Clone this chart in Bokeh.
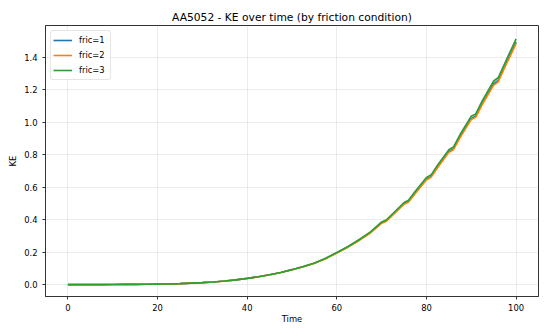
from bokeh.plotting import figure
from bokeh.models import FixedTicker, PrintfTickFormatter, Range1d
from bokeh.embed import file_html
from bokeh.resources import INLINE

time = [0, 2.5, 5, 7.5, 10, 12.5, 15, 17.5, 20, 22.5, 25, 27.5, 30, 32.5, 35, 37.5,
        40, 42.5, 45, 47.5, 50, 52.5, 55, 57.5, 60, 62.5, 65, 67.5, 70, 71, 72.5,
        75, 76, 77.5, 80, 81, 82.5, 85, 86, 87.5, 90, 91, 92.5, 95, 96, 97.5, 100]

ke_fric3 = [0.000, 0.000, 0.000, 0.000, 0.0005, 0.001, 0.0015, 0.002, 0.003, 0.004,
            0.006, 0.009, 0.012, 0.016, 0.022, 0.029, 0.038, 0.048, 0.061, 0.075,
            0.092, 0.111, 0.133, 0.162, 0.198, 0.235, 0.278, 0.325, 0.386, 0.398,
            0.438, 0.506, 0.520, 0.575, 0.660, 0.675, 0.738, 0.832, 0.848, 0.925,
            1.038, 1.052, 1.135, 1.255, 1.275, 1.365, 1.515]

ke_fric1 = [0.000, 0.000, 0.000, 0.000, 0.0005, 0.001, 0.0015, 0.002, 0.003, 0.004,
            0.006, 0.009, 0.012, 0.016, 0.022, 0.029, 0.038, 0.048, 0.061, 0.075,
            0.092, 0.110, 0.132, 0.160, 0.196, 0.232, 0.274, 0.320, 0.380, 0.392,
            0.431, 0.498, 0.512, 0.566, 0.650, 0.665, 0.727, 0.820, 0.836, 0.912,
            1.024, 1.038, 1.120, 1.238, 1.258, 1.348, 1.494]

ke_fric2 = [0.000, 0.000, 0.000, 0.000, 0.0005, 0.001, 0.0015, 0.002, 0.003, 0.004,
            0.006, 0.009, 0.012, 0.016, 0.022, 0.029, 0.038, 0.048, 0.061, 0.075,
            0.092, 0.110, 0.131, 0.159, 0.195, 0.231, 0.272, 0.318, 0.378, 0.390,
            0.429, 0.495, 0.509, 0.562, 0.646, 0.661, 0.722, 0.815, 0.831, 0.906,
            1.018, 1.032, 1.113, 1.230, 1.250, 1.340, 1.485]

series_names = ["fric=1", "fric=2", "fric=3"]
series_values = [ke_fric1, ke_fric2, ke_fric3]
series_colors = ["#1f77b4", "#ff7f0e", "#2ca02c"]

x_ticks = [0, 20, 40, 60, 80, 100]
y_ticks = [0.0, 0.2, 0.4, 0.6, 0.8, 1.0, 1.2, 1.4]

FONT = "DejaVu Sans"
SMALL = "8.4px"

p = figure(width=539, height=326, output_backend="svg", toolbar_location=None,
           title="AA5052 - KE over time (by friction condition)",
           x_range=Range1d(-5, 105), y_range=Range1d(-0.0735, 1.597),
           min_border_left=45, min_border_right=1, min_border_top=25, min_border_bottom=29)

for name, vals, col in zip(series_names, series_values, series_colors):
    p.line(time, vals, line_color=col, line_width=1.6, legend_label=name)

p.title.align = "center"
p.title.text_font = FONT
p.title.text_font_size = "10.7px"
p.title.text_font_style = "normal"
p.title.text_color = "black"
p.title.standoff = 4

p.xaxis.axis_label = "Time"
p.yaxis.axis_label = "KE"
for ax in (p.xaxis[0], p.yaxis[0]):
    ax.axis_label_text_font = FONT
    ax.axis_label_text_font_size = SMALL
    ax.axis_label_text_font_style = "normal"
    ax.axis_label_text_color = "black"
    ax.major_label_text_font = FONT
    ax.major_label_text_font_size = SMALL
    ax.major_label_text_color = "black"
    ax.axis_line_color = "#333333"
    ax.axis_line_width = 1
    ax.major_tick_line_color = "#333333"
    ax.major_tick_out = 3
    ax.major_tick_in = 0
    ax.minor_tick_line_color = None

p.xaxis.axis_label_standoff = 0
p.xaxis.major_label_standoff = 4
p.yaxis.axis_label_standoff = 3
p.yaxis.major_label_standoff = 5

p.xaxis.ticker = FixedTicker(ticks=x_ticks)
p.yaxis.ticker = FixedTicker(ticks=y_ticks)
p.yaxis.formatter = PrintfTickFormatter(format="%.1f")

p.xgrid.grid_line_color = "#b0b0b0"
p.ygrid.grid_line_color = "#b0b0b0"
p.xgrid.grid_line_alpha = 0.3
p.ygrid.grid_line_alpha = 0.3
p.xgrid.grid_line_width = 0.8
p.ygrid.grid_line_width = 0.8

p.outline_line_color = "#333333"
p.outline_line_alpha = 1.0
p.background_fill_color = "white"
p.border_fill_color = "white"

lg = p.legend[0]
lg.location = "top_left"
lg.margin = 5
lg.padding = 2
lg.spacing = 1
lg.glyph_width = 19
lg.glyph_height = 14
lg.label_height = 14
lg.label_width = 29
lg.label_standoff = 7
lg.label_text_font = FONT
lg.label_text_font_size = SMALL
lg.label_text_color = "black"
lg.border_line_color = "#cccccc"
lg.border_radius = 3
lg.background_fill_alpha = 0.8

open("out.html", "w").write(file_html(p, INLINE))
